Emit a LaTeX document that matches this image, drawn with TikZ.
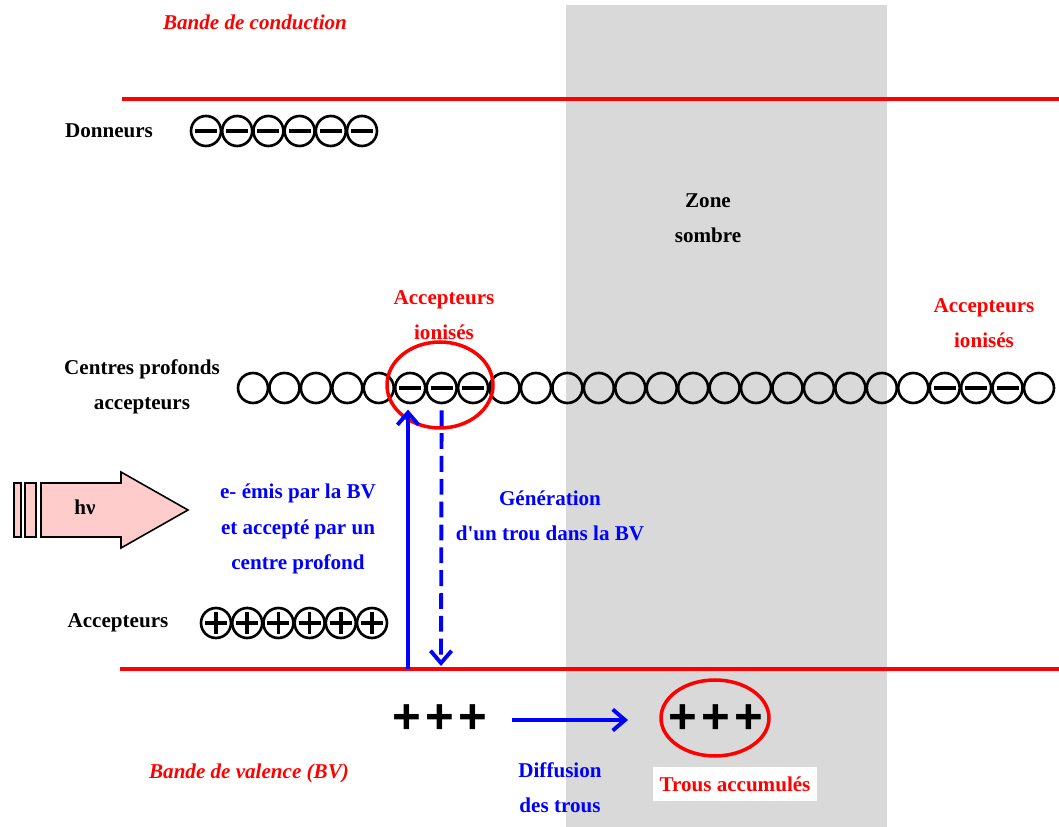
\documentclass[tikz,border=0pt]{standalone}
\usepackage{fontspec}
\setmainfont{Liberation Serif}
\newfontfamily\signes{Liberation Sans}
\usepackage{tikz}
\usetikzlibrary{arrows.meta,shapes.geometric}
\definecolor{GrisZone}{RGB}{217,217,217}
\definecolor{RosePhoton}{RGB}{255,204,204}
\definecolor{BleuTrou}{RGB}{0,0,255}
\tikzset{
  charge/.style={circle,draw,line width=1.5pt,minimum size=0.6cm,inner sep=0pt},
  barre/.style={line width=2pt},
  bande/.style={red,line width=2.2pt},
  txt/.style={font=\fontsize{12}{14}\selectfont\bfseries,align=center},
  fleche/.style={BleuTrou,line width=2.2pt,-{Straight Barb[length=7pt,width=12pt,line width=2.2pt]}},
  signe/.style={font=\fontsize{28}{28}\selectfont\signes\bfseries},
}

\begin{document}
\begin{tikzpicture}[x=0.02cm,y=-0.02cm]
  \useasboundingbox (0,0) rectangle (1059,827);
  \fill[GrisZone] (566,5) rectangle (887,827);
  % bandes
  \draw[bande] (122,99) -- (1059,99);
  \draw[bande] (120,669) -- (1059,669);
  \node[txt,red,font=\fontsize{12}{14}\selectfont\bfseries\itshape] (bc) at (255,22) {Bande de conduction};
  \node[txt,red,font=\fontsize{12}{14}\selectfont\bfseries\itshape] (bv) at (249,773) {Bande de valence (BV)};
  % donneurs
  \node[txt] (don) at (109,131) {Donneurs};
  \foreach \i in {0,...,5}
    \node[charge] (d\i) at (206+31.2*\i,131) {};
  \foreach \i in {0,...,5}
    \draw[barre] ([xshift=-0.22cm]d\i.center) -- ([xshift=0.22cm]d\i.center);
  \node[txt] (zone) at (708,218) {Zone\\[6pt]sombre};
  % centres profonds
  \node[txt] (cp) at (142,387) {Centres profonds\\[6pt]accepteurs};
  \foreach \i in {0,...,25}
    \node[charge] (c\i) at (253+31.44*\i,388) {};
  \foreach \i in {5,6,7,22,23,24}
    \draw[barre] ([xshift=-0.22cm]c\i.center) -- ([xshift=0.22cm]c\i.center);
  \node[draw=red,line width=2pt,ellipse,minimum width=2.12cm,minimum height=1.72cm] (ion) at (440,385) {};
  \node[txt,red] (ai1) at (444,315) {Accepteurs\\[6pt]ionisés};
  \node[txt,red] (ai2) at (984,323) {Accepteurs\\[6pt]ionisés};
  % accepteurs
  \node[txt] (acc) at (118,623) {Accepteurs};
  \foreach \i in {0,...,5}
    \node[charge] (a\i) at (216+31.2*\i,623) {};
  \foreach \i in {0,...,5}{
    \draw[barre] ([xshift=-0.22cm]a\i.center) -- ([xshift=0.22cm]a\i.center);
    \draw[barre] ([yshift=-0.22cm]a\i.center) -- ([yshift=0.22cm]a\i.center);
  }
  % photon
  \filldraw[fill=RosePhoton,line width=0.9pt] (14,483) rectangle (21,537);
  \filldraw[fill=RosePhoton,line width=0.9pt] (25,483) rectangle (36,537);
  \filldraw[fill=RosePhoton,line width=0.9pt] (41,483) -- (121,483) -- (121,472) -- (188,510)
    -- (121,548) -- (121,537) -- (41,537) -- cycle;
  \node[txt] (hv) at (85,507) {hν};
  % transitions
  \coordinate (vb1) at (408,669);
  \coordinate (vb2) at (441,666);
  \draw[fleche,shorten >=3pt] (vb1) -- (vb1 |- c5.south);
  \draw[fleche,dash pattern=on 9pt off 4pt] (c6.south) ++(0,6) -- (vb2);
  \node[txt,BleuTrou] (emis) at (298,529) {e- émis par la BV\\[6pt]et accepté par un\\[6pt]centre profond};
  \node[txt,BleuTrou] (gen) at (550,516) {Génération\\[6pt]d\textquotesingle un trou dans la BV};
  % trous
  \node[signe] (tg) at (440,719) {+\kern2.5pt+\kern2.5pt+};
  \node[signe] (td) at (716,719) {+\kern2.5pt+\kern2.5pt+};
  \node[draw=red,line width=2pt,ellipse,minimum width=2.16cm,minimum height=1.52cm] (acc2) at (715,718) {};
  \draw[fleche] (512,720) -- (628,720);
  \node[txt,BleuTrou] (diff) at (560,788) {Diffusion\\[6pt]des trous};
  \node[txt,red,fill=white,minimum width=3.3cm,minimum height=0.7cm] (ta) at (735,784) {Trous accumulés};
\end{tikzpicture}
\end{document}
